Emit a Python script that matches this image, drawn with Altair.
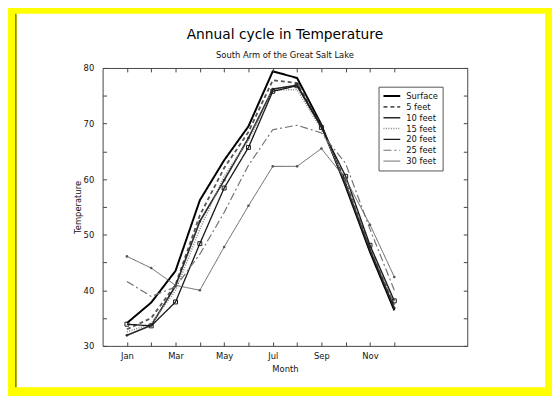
import altair as alt
import pandas as pd

months = list(range(1, 13))
month_names = ["Jan", "Feb", "Mar", "Apr", "May", "Jun", "Jul", "Aug", "Sep", "Oct", "Nov", "Dec"]
y_label_values = [30, 40, 50, 60, 70, 80]
y_tick_values = [30, 35, 40, 45, 50, 55, 60, 65, 70, 75, 80]

series_names = ["Surface", "5 feet", "10 feet", "15 feet", "20 feet", "25 feet", "30 feet"]
surface = [34.1, 37.8, 43.5, 56.2, 63.4, 69.5, 79.4, 78.2, 69.8, 58.7, 46.9, 36.4]
ft5 = [33.0, 35.0, 41.0, 53.5, 62.0, 68.5, 77.8, 77.3, 69.5, 59.5, 47.5, 37.2]
ft10 = [31.9, 33.7, 40.8, 52.4, 59.8, 67.4, 76.2, 76.9, 69.5, 59.0, 47.3, 36.8]
ft15 = [32.5, 34.0, 40.0, 51.0, 60.5, 67.0, 76.0, 76.1, 69.0, 59.5, 47.8, 37.5]
ft20 = [33.9, 33.6, 37.9, 48.4, 58.4, 65.7, 75.8, 76.8, 69.3, 60.5, 48.1, 38.1]
ft25 = [41.6, 38.9, 40.6, 46.5, 54.0, 62.5, 68.9, 69.7, 68.3, 62.8, 51.0, 40.0]
ft30 = [46.1, 44.0, 40.9, 40.0, 47.8, 55.2, 62.3, 62.3, 65.5, 60.0, 51.8, 42.4]
series_values = [surface, ft5, ft10, ft15, ft20, ft25, ft30]

rows = []
for name, vals in zip(series_names, series_values):
    for m, v in zip(months, vals):
        rows.append({"month": m, "series": name, "temp": v})
df = pd.DataFrame(rows)

colors = ["#000000", "#555555", "#2a2a2a", "#808080", "#1a1a1a", "#707070", "#606060"]
dashes = [[1, 0], [4, 3], [1, 0], [1, 1.5], [1, 0], [8, 3, 2, 3], [1, 0]]
widths = [2.0, 1.0, 1.0, 1.0, 1.0, 1.0, 1.0]

FONT = "DejaVu Sans"
TXT = "#111111"
FRAME = "#444444"

xscale = alt.Scale(domain=[0, 15], nice=False, zero=False)
yscale = alt.Scale(domain=[30, 80], nice=False, zero=False)

names_js = "[" + ",".join("'" + n + "'" for n in month_names) + "]"
label_expr = "datum.value % 2 == 1 ? " + names_js + "[datum.value - 1] : ''"

common = dict(grid=False, zindex=1, labelFont=FONT, titleFont=FONT)

ax_x_main = alt.Axis(orient="bottom", values=months, labelExpr=label_expr, labelOverlap=False,
                     ticks=False, tickSize=0, domain=True, domainColor=FRAME, domainWidth=1,
                     labelPadding=6, labelFontSize=8.5, labelColor=TXT,
                     title="Month", titleFontSize=8.5, titleFontWeight="normal", titleColor=TXT,
                     titlePadding=5, **common)
ax_y_main = alt.Axis(orient="left", values=y_label_values, labelOverlap=False,
                     ticks=False, tickSize=0, domain=True, domainColor=FRAME, domainWidth=1,
                     labelPadding=9, labelFontSize=8.5, labelColor=TXT,
                     title="Temperature", titleFontSize=8.5, titleFontWeight="normal", titleColor=TXT,
                     titlePadding=1, **common)
ax_x_top = alt.Axis(orient="top", labels=False, ticks=False, domain=True, domainColor=FRAME,
                    domainWidth=1, title=None, **common)
ax_y_right = alt.Axis(orient="right", labels=False, ticks=False, domain=True, domainColor=FRAME,
                      domainWidth=1, title=None, **common)
ax_x_tb = alt.Axis(orient="bottom", values=months, labels=False, domain=False, ticks=True,
                   tickSize=4, offset=-4, tickColor=FRAME, title=None, **common)
ax_x_tt = alt.Axis(orient="top", values=months, labels=False, domain=False, ticks=True,
                   tickSize=4, offset=-4, tickColor=FRAME, title=None, **common)
ax_y_tl = alt.Axis(orient="left", values=y_tick_values, labels=False, domain=False, ticks=True,
                   tickSize=4, offset=-4, tickColor=FRAME, title=None, **common)
ax_y_tr = alt.Axis(orient="right", values=y_tick_values, labels=False, domain=False, ticks=True,
                   tickSize=4, offset=-4, tickColor=FRAME, title=None, **common)

legend = alt.Legend(title=None, orient="none", legendX=280, legendY=19,
                    symbolType="stroke", symbolSize=289, symbolStrokeColor="#000",
                    labelFont=FONT, labelFontSize=8.5, labelColor=TXT, labelOffset=5,
                    rowPadding=0, clipHeight=11, padding=4, strokeColor="#555555",
                    fillColor="#ffffff", symbolOffset=0)

base = alt.Chart(df)

frame_bg = alt.Chart(alt.Data(values=[{"a": 1}])).mark_rect(fill="#ffffff").encode(
    x=alt.value(-87), x2=alt.value(449), y=alt.value(-55), y2=alt.value(324)
)
frame_line = alt.Chart(alt.Data(values=[{"a": 1}])).mark_rule(color="#3a3a3a", strokeWidth=1).encode(
    x=alt.value(-88), y=alt.value(-55), y2=alt.value(324)
)

lines = base.mark_line().encode(
    x=alt.X("month:Q", scale=xscale, axis=ax_x_main),
    y=alt.Y("temp:Q", scale=yscale, axis=ax_y_main),
    color=alt.Color("series:N", scale=alt.Scale(domain=series_names, range=colors), legend=legend),
    strokeDash=alt.StrokeDash("series:N", scale=alt.Scale(domain=series_names, range=dashes), legend=legend),
    strokeWidth=alt.StrokeWidth("series:N", scale=alt.Scale(domain=series_names, range=widths), legend=legend),
)

p10 = base.transform_filter(alt.datum.series == "10 feet").mark_point(
    shape="circle", filled=True, size=7, color="#2a2a2a", opacity=1
).encode(
    x=alt.X("month:Q", scale=xscale, axis=ax_x_top),
    y=alt.Y("temp:Q", scale=yscale, axis=ax_y_right),
)
p20 = base.transform_filter(alt.datum.series == "20 feet").mark_point(
    shape="square", filled=False, size=16, color="#1a1a1a", strokeWidth=1, opacity=1
).encode(
    x=alt.X("month:Q", scale=xscale, axis=ax_x_tb),
    y=alt.Y("temp:Q", scale=yscale, axis=ax_y_tl),
)
p30 = base.transform_filter(alt.datum.series == "30 feet").mark_point(
    shape="circle", filled=True, size=7, color="#555555", opacity=1
).encode(
    x=alt.X("month:Q", scale=xscale, axis=ax_x_tt),
    y=alt.Y("temp:Q", scale=yscale, axis=ax_y_tr),
)

chart = alt.layer(frame_bg, frame_line, lines, p10, p20, p30).resolve_axis(
    x="independent", y="independent"
).properties(
    width=370,
    height=282,
    padding={"left": 96, "top": 58, "right": 86, "bottom": 48},
    autosize=alt.AutoSizeParams(type="none"),
    background="#ffff00",
    title=alt.TitleParams(
        text="Annual cycle in Temperature",
        subtitle="South Arm of the Great Salt Lake",
        anchor="middle", frame="group", font=FONT, fontSize=14, fontWeight="normal", color="#000000",
        subtitleFont=FONT, subtitleFontSize=8.5, subtitleColor=TXT,
        subtitlePadding=9, offset=-47, zindex=2,
    ),
).configure_view(stroke=None)

chart.save("out.html", embed_options={"renderer": "svg", "actions": False})
